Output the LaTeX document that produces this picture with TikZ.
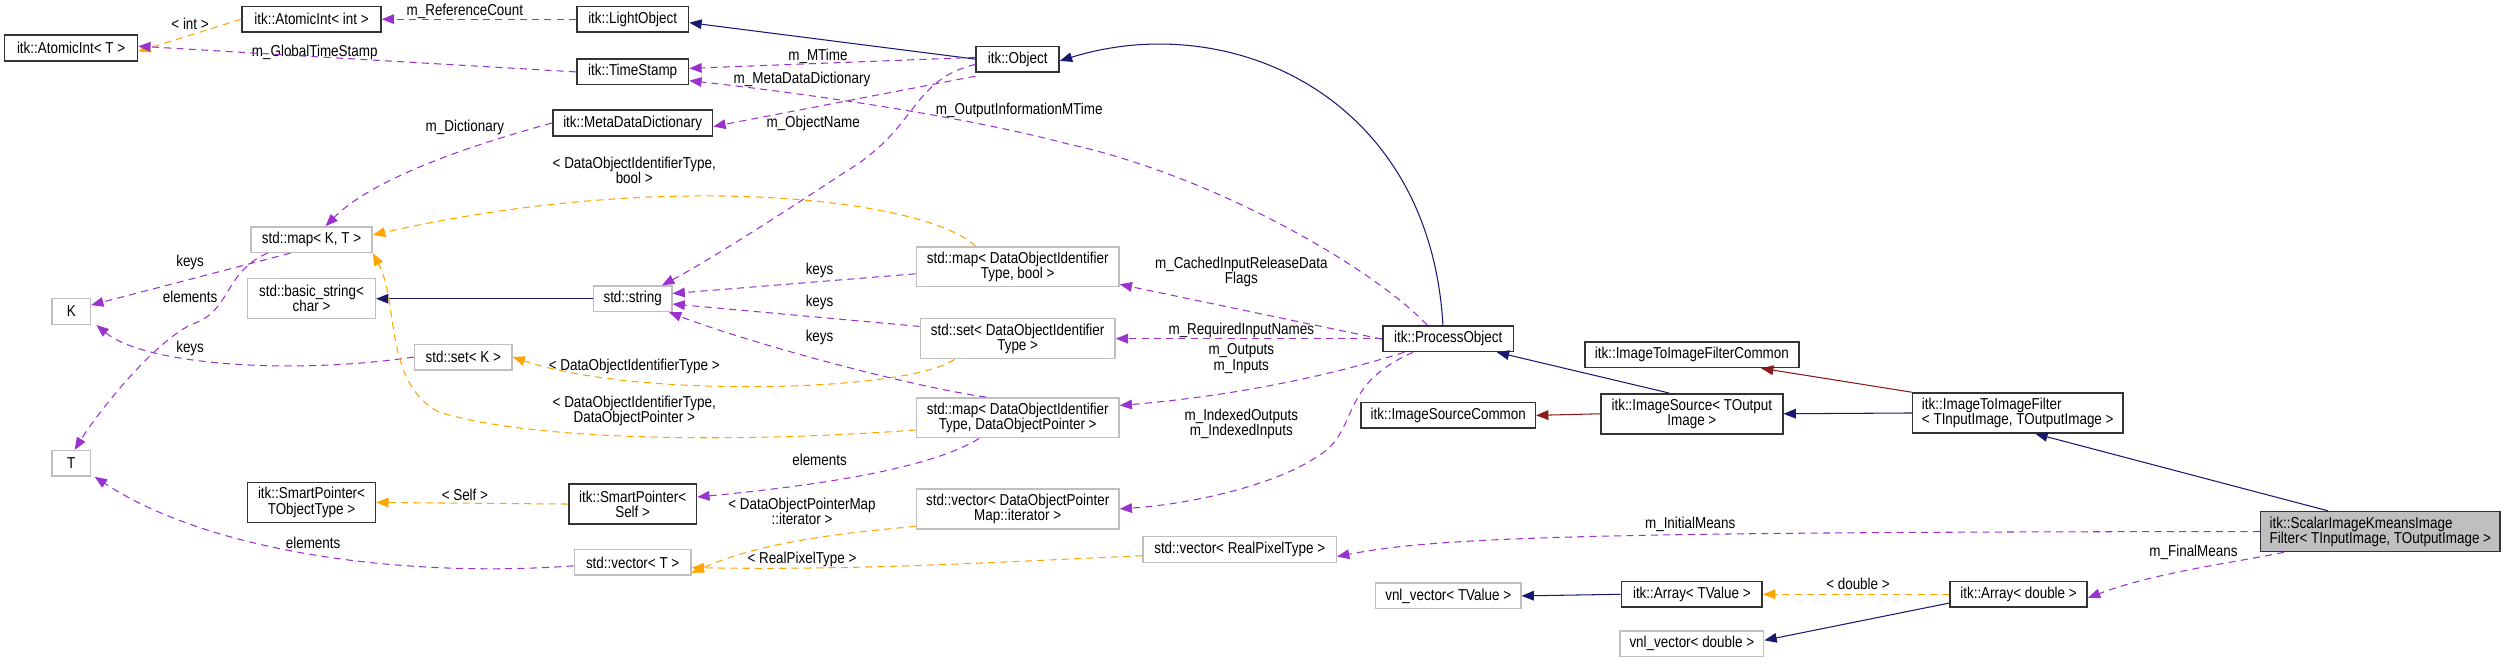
\documentclass[tikz,border=0pt]{standalone}
\usepackage{fontspec}
\setmainfont{Liberation Sans}[FakeStretch=0.85]
\usetikzlibrary{arrows.meta}
\definecolor{cpur}{HTML}{9A32CD}
\definecolor{corg}{HTML}{FFA500}
\definecolor{cnav}{HTML}{191970}
\definecolor{cred}{HTML}{8B1A1A}
\definecolor{cgry}{HTML}{BFBFBF}
\begin{document}
\begin{tikzpicture}[x=0.032cm,y=-0.032cm,
  every node/.style={font=\fontsize{9}{8.6}\selectfont, inner sep=1pt},
  bx/.style={draw=black!80, line width=0.9pt, fill=white, minimum height=0.512cm, align=center},
  gb/.style={draw=cgry, line width=0.8pt, fill=white, minimum height=0.512cm, align=center},
  two/.style={minimum height=0.8cm},
  lbl/.style={align=center, fill=none},
  tip/.style={-{Triangle[length=7pt,width=5.5pt]}},
  pe/.style={tip, draw=cpur, line width=0.6pt, dash pattern=on 4pt off 3pt},
  oe/.style={tip, draw=corg, line width=0.6pt, dash pattern=on 4pt off 3pt},
  ne/.style={tip, draw=cnav, line width=0.6pt},
  re/.style={tip, draw=cred, line width=0.6pt}]
\useasboundingbox (0,0) rectangle (1568,417.5);
% nodes
\node[bx,minimum width=2.78cm] (ai) at (195,12) {itk::AtomicInt< int >};
\node[bx,minimum width=2.66cm] (at) at (44.5,30) {itk::AtomicInt< T >};
\node[bx,minimum width=2.24cm] (lo) at (396,12) {itk::LightObject};
\node[bx,minimum width=2.24cm] (ts) at (396,45) {itk::TimeStamp};
\node[bx,minimum width=3.2cm] (mdd) at (396,77) {itk::MetaDataDictionary};
\node[gb,minimum width=2.43cm] (mkt) at (195,150) {std::map< K, T >};
\node[gb,two,minimum width=2.56cm] (bs) at (195,187) {std::basic\_string<\\ char >};
\node[gb,minimum width=1.57cm] (str) at (396,187) {std::string};
\node[gb,minimum width=0.77cm] (K) at (44.6,195) {K};
\node[gb,minimum width=1.95cm] (setk) at (290,223.5) {std::set< K >};
\node[gb,minimum width=0.77cm] (T) at (44.6,290) {T};
\node[bx,two,minimum width=2.56cm] (spt) at (195,314.5) {itk::SmartPointer<\\ TObjectType >};
\node[bx,two,minimum width=2.56cm] (sps) at (396,315.5) {itk::SmartPointer<\\ Self >};
\node[gb,minimum width=2.34cm] (vt) at (396,352) {std::vector< T >};
\node[bx,minimum width=1.66cm] (obj) at (637,37) {itk::Object};
\node[gb,two,minimum width=4.06cm] (mb) at (637,167) {std::map< DataObjectIdentifier\\ Type, bool >};
\node[gb,two,minimum width=3.9cm] (sd) at (637,212) {std::set< DataObjectIdentifier\\ Type >};
\node[gb,two,minimum width=4.06cm] (md) at (637,261.5) {std::map< DataObjectIdentifier\\ Type, DataObjectPointer >};
\node[gb,two,minimum width=4.06cm] (vi) at (637,318.5) {std::vector< DataObjectPointer\\ Map::iterator >};
\node[gb,minimum width=3.87cm] (vr) at (776,344) {std::vector< RealPixelType >};
\node[bx,minimum width=2.62cm] (po) at (906.5,212) {itk::ProcessObject};
\node[bx,minimum width=3.49cm] (isc) at (906.5,260) {itk::ImageSourceCommon};
\node[gb,minimum width=2.91cm] (vnt) at (906.5,373) {vnl\_vector< TValue >};
\node[gb,minimum width=2.88cm] (vnd) at (1059,403) {vnl\_vector< double >};
\node[bx,two,minimum width=3.64cm] (is) at (1059,259) {itk::ImageSource< TOutput\\ Image >};
\node[bx,minimum width=4.29cm] (itc) at (1059,222) {itk::ImageToImageFilterCommon};
\node[bx,two,minimum width=4.21cm,align=left] (itf) at (1263,258.5) {itk::ImageToImageFilter\\ < TInputImage, TOutputImage >};
\node[bx,two,minimum width=4.8cm,align=left,fill=cgry] (sc) at (1490,332.7) {itk::ScalarImageKmeansImage\\ Filter< TInputImage, TOutputImage >};
\node[bx,minimum width=2.75cm] (ad) at (1263.5,372) {itk::Array< double >};
\node[bx,minimum width=2.82cm] (atv) at (1059,372) {itk::Array< TValue >};
% labels
\node[lbl] (l1) at (291,7) {m\_ReferenceCount};
\node[lbl] (l2) at (119,15) {< int >};
\node[lbl] (l3) at (197,32.5) {m\_GlobalTimeStamp};
\node[lbl] (l5) at (512,35) {m\_MTime};
\node[lbl] (l6) at (502,50) {m\_MetaDataDictionary};
\node[lbl] (l7) at (509,77) {m\_ObjectName};
\node[lbl] (l8) at (638,69) {m\_OutputInformationMTime};
\node[lbl] (l9) at (291,80) {m\_Dictionary};
\node[lbl] (l10) at (397,106.5) {< DataObjectIdentifierType,\\ bool >};
\node[lbl] (l11) at (119,164) {keys};
\node[lbl] (l12) at (119,185.6) {elements};
\node[lbl] (l14) at (119,218) {keys};
\node[lbl] (l15) at (397,229.5) {< DataObjectIdentifierType >};
\node[lbl] (l16) at (397,257) {< DataObjectIdentifierType,\\ DataObjectPointer >};
\node[lbl] (l17) at (513,169) {keys};
\node[lbl] (l18) at (513,189.6) {keys};
\node[lbl] (l19) at (513,211) {keys};
\node[lbl] (l20) at (513,287.6) {elements};
\node[lbl] (l21) at (291,310) {< Self >};
\node[lbl] (l22) at (196,339.5) {elements};
\node[lbl] (l23) at (502,320) {< DataObjectPointerMap\\ ::iterator >};
\node[lbl] (l24) at (502,350) {< RealPixelType >};
\node[lbl] (l25) at (777,170) {m\_CachedInputReleaseData\\ Flags};
\node[lbl] (l26) at (777,207) {m\_RequiredInputNames};
\node[lbl] (l27) at (777,224.5) {m\_Outputs\\ m\_Inputs};
\node[lbl] (l28) at (777,265.5) {m\_IndexedOutputs\\ m\_IndexedInputs};
\node[lbl] (l35) at (1058,328) {m\_InitialMeans};
\node[lbl] (l36) at (1373,346) {m\_FinalMeans};
\node[lbl] (l37) at (1163,365.5) {< double >};
% edges
\draw[pe] (lo.west) -- (ai.east);
\draw[oe] (ai.west) -- ([yshift=-2pt]at.east);
\draw[pe] (ts.west) .. controls (240,38) .. ([yshift=1pt]at.east);
\draw[ne] (obj.west) -- ([yshift=-2pt]lo.east);
\draw[pe] ([yshift=1pt]obj.west) -- ([yshift=2pt]ts.east);
\draw[pe] ([yshift=-2pt]obj.south west) -- ([yshift=-2pt]mdd.east);
\draw[pe] ([yshift=-3pt]obj.west) .. controls (570,50) and (575,80) .. (530,107) .. controls (480,140) and (440,165) .. ([xshift=-6pt]str.north east);
\draw[pe] ([xshift=-12pt]po.north) .. controls (860,168) and (760,110) .. (668,90) .. controls (600,72) and (500,58) .. ([yshift=-5pt]ts.east);
\draw[ne] ([xshift=-3pt]po.north) .. controls (895,60) and (770,5) .. ([yshift=-1pt]obj.east);
\draw[pe] (mdd.west) .. controls (280,95) and (230,115) .. ([xshift=8pt]mkt.north);
\draw[oe] ([xshift=-24pt]mb.north) .. controls (580,125) and (420,105) .. ([yshift=-5pt]mkt.north east);
\draw[pe] ([xshift=-12pt]mkt.south) -- ([yshift=-4pt]K.north east);
\draw[pe] ([xshift=-25pt]mkt.south) .. controls (140,170) and (145,195) .. (120,203) .. controls (95,215) and (60,260) .. ([xshift=2pt]T.north);
\draw[ne] (str.west) -- (bs.east);
\draw[pe] (setk.west) .. controls (180,235) and (90,228) .. ([xshift=3pt]K.south east);
\draw[oe] ([xshift=-36pt]sd.south) .. controls (570,245) and (400,250) .. (setk.east);
\draw[oe] ([yshift=-7pt]md.west) .. controls (450,278) and (330,275) .. (275,258) .. controls (240,240) and (250,190) .. (mkt.south east);
\draw[pe] ([yshift=-4pt]mb.west) -- ([yshift=3pt]str.east);
\draw[pe] ([yshift=7pt]sd.west) -- ([yshift=-3pt]str.east);
\draw[pe] ([xshift=-18pt]md.north) .. controls (570,242) and (470,215) .. ([xshift=-2pt]str.south east);
\draw[pe] ([xshift=-22pt]md.south) .. controls (580,295) and (500,305) .. ([yshift=4pt]sps.east);
\draw[oe] ([yshift=-10pt]vi.west) .. controls (510,335) and (470,342) .. ([yshift=-6pt]vt.east);
\draw[oe] ([yshift=-3.5pt]vr.west) .. controls (620,352) and (540,357) .. ([yshift=-3pt]vt.east);
\draw[pe] ([yshift=-2pt]vt.west) .. controls (250,362) and (130,345) .. ([xshift=2pt]T.south east);
\draw[oe] (sps.west) -- (spt.east);
\draw[pe] ([yshift=-8pt]po.north west) -- ([yshift=-10pt]mb.east);
\draw[pe] (po.west) -- (sd.east);
\draw[pe] ([xshift=-25pt]po.south) .. controls (830,236) and (770,248) .. ([yshift=7pt]md.east);
\draw[pe] ([xshift=-20pt]po.south) .. controls (840,240) and (850,265) .. (830,282) .. controls (800,305) and (740,316) .. (vi.east);
\draw[ne] ([xshift=-13pt]is.north) -- ([xshift=-10pt]po.south east);
\draw[re] (is.west) -- (isc.east);
\draw[ne] (itf.west) -- (is.east);
\draw[re] (itf.north west) -- ([xshift=-22pt]itc.south east);
\draw[ne] ([xshift=-30pt]sc.north) -- ([xshift=10pt]itf.south);
\draw[pe] (sc.west) .. controls (1000,333) and (900,336) .. ([yshift=-4pt]vr.east);
\draw[pe] ([xshift=-55pt]sc.south) .. controls (1400,352) and (1350,358) .. ([yshift=-2pt]ad.east);
\draw[oe] (ad.west) -- (atv.east);
\draw[ne] ([yshift=-5pt]ad.west) -- ([yshift=2pt]vnd.east);
\draw[ne] (atv.west) -- (vnt.east);
\end{tikzpicture}
\end{document}
